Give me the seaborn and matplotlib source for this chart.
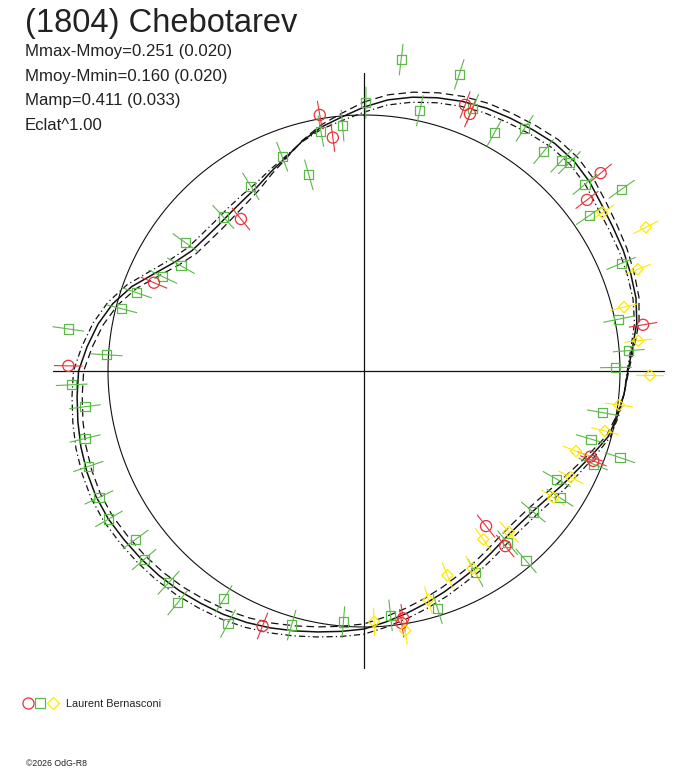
import numpy as np
import pandas as pd
import matplotlib
matplotlib.use("Agg")
import matplotlib.pyplot as plt
import seaborn as sns
from matplotlib.lines import Line2D
from matplotlib.legend_handler import HandlerTuple
from matplotlib.collections import LineCollection

# ---------------- text ----------------
title = "(1804) Chebotarev"
stats_lines = ["Mmax-Mmoy=0.251 (0.020)", "Mmoy-Mmin=0.160 (0.020)",
               "Mamp=0.411 (0.033)", "Eclat^1.00"]
observer = "Laurent Bernasconi"
credit = "\u00a92026 OdG-R8"

# ---------------- fitted light curve ----------------
# rotation angle (deg, clockwise from top) and relative flux (mean flux = 1)
fit_angle = list(range(0, 360, 5))
fit_flux = [1.031, 1.063, 1.086, 1.105, 1.121, 1.133, 1.141, 1.150, 1.160, 1.160,
            1.150, 1.133, 1.123, 1.117, 1.109, 1.100, 1.082, 1.053, 1.031, 1.020,
            1.006, 0.988, 0.951, 0.918, 0.893, 0.871, 0.857, 0.852, 0.855, 0.867,
            0.883, 0.898, 0.918, 0.939, 0.961, 0.984, 1.008, 1.021, 1.035, 1.051,
            1.068, 1.084, 1.098, 1.109, 1.121, 1.131, 1.139, 1.146, 1.154, 1.156,
            1.152, 1.145, 1.135, 1.125, 1.115, 1.086, 1.055, 1.016, 0.965, 0.902,
            0.852, 0.820, 0.809, 0.805, 0.809, 0.818, 0.832, 0.859, 0.889, 0.930,
            0.967, 0.996]
# uncertainty envelope offset (dashed = flux + band, dash-dot = flux - band)
fit_band = [0.020, 0.020, 0.020, 0.020, 0.020, 0.020, 0.020, 0.020, 0.020, 0.020,
            0.020, 0.020, 0.018, 0.016, 0.014, 0.012, 0.009, 0.006, 0.003, 0.000,
            -0.004, -0.008, -0.012, -0.015, -0.018, -0.020, -0.020, -0.020, -0.020, -0.020,
            -0.020, -0.020, -0.020, -0.020, -0.020, -0.020, -0.020, -0.020, -0.020, -0.020,
            -0.020, -0.020, -0.020, -0.020, -0.020, -0.020, -0.020, -0.020, -0.020, -0.020,
            -0.020, -0.020, -0.020, -0.020, -0.020, -0.020, -0.020, -0.020, -0.020, -0.020,
            -0.020, -0.020, -0.020, -0.020, -0.020, -0.018, -0.014, -0.009, -0.004, 0.002,
            0.008, 0.014]

# ---------------- observations ----------------
green_angle = [6.8, 17.8, 0.4, 12.1, 22.5, 28.7, 33.5, 39.3, 43.2, 44.6,
               49.8, 54.8, 55.4, 67.3, 78.5, 85.6, 89.2, 99.9, 106.7, 108.7,
               112.1, 119.3, 122.9, 129.8, 140.1, 139.5, 151.1, 162.8, 173.8, 184.7,
               195.9, 208.3, 211.6, 218.8, 222.7, 229.4, 233.6, 239.9, 244.5, 250.9,
               256.4, 262.7, 267.3, 273.6, 278.1, 284.4, 289.0, 295.1, 299.9, 305.7,
               317.6, 328.5, 339.1, 344.3, 349.8, 355.0]
green_flux = [1.225, 1.217, 1.048, 1.040, 1.109, 1.062, 1.137, 1.107, 1.127, 1.143,
              1.130, 1.232, 1.069, 1.089, 1.016, 1.037, 0.984, 0.946, 0.926, 1.056,
              0.966, 0.863, 0.912, 0.861, 0.875, 0.975, 0.900, 0.972, 0.960, 0.984,
              1.032, 1.121, 1.045, 1.162, 1.126, 1.131, 1.108, 1.152, 1.147, 1.140,
              1.121, 1.099, 1.143, 1.007, 1.167, 0.977, 0.939, 0.868, 0.825, 0.858,
              0.815, 0.846, 0.896, 0.796, 0.952, 0.962]
red_angle = [20.8, 22.4, 50.1, 52.5, 80.6, 110.7, 111.4, 141.8, 141.1, 171.0,
             171.5, 201.7, 271.0, 292.8, 321.0, 350.2, 352.4]
red_flux = [1.112, 1.086, 1.205, 1.098, 1.105, 0.946, 0.962, 0.771, 0.879, 0.978,
            0.996, 1.072, 1.155, 0.890, 0.764, 1.015, 0.920]
yellow_angle = [56.4, 63.0, 69.6, 76.2, 83.7, 90.9, 97.6, 104.0, 110.7, 117.2,
                123.8, 138.0, 144.7, 151.2, 157.8, 164.3, 177.7, 171.0]
yellow_flux = [1.118, 1.236, 1.141, 1.046, 1.078, 1.117, 1.005, 0.970, 0.885, 0.908,
               0.890, 0.846, 0.806, 0.880, 0.862, 0.929, 0.980, 1.027]
flux_err = {"green": 0.062, "red": 0.056, "yellow": 0.055}

colors = {"red": "#e8323a", "green": "#5cb848", "yellow": "#ffe800"}
markers = {"red": "o", "green": "s", "yellow": "D"}
msize = {"red": 64, "green": 44, "yellow": 33}

axis_extent_x = (-1.215, 1.172)
axis_extent_y = (-1.160, 1.164)

# ---------------- figure ----------------
sns.set_style("white")
plt.rcParams["font.family"] = ["Liberation Sans", "DejaVu Sans"]

W, H = 688, 768
fig = plt.figure(figsize=(W / 100, H / 100), dpi=100)
ax = fig.add_axes([0, 0, 1, 1])
scale = 256.0
cx, cy = 364.0, 371.0
ax.set_xlim(-cx / scale, (W - cx) / scale)
ax.set_ylim((cy - H) / scale, cy / scale)
ax.axis("off")


def to_xy(angle_deg, flux):
    a = np.deg2rad(np.asarray(angle_deg, float))
    f = np.asarray(flux, float)
    return f * np.sin(a), f * np.cos(a)


# mean-flux circle
circ_ang = np.linspace(0, 360, 721)
xc, yc = to_xy(circ_ang, np.ones_like(circ_ang))
ax.plot(xc, yc, color="#111111", lw=0.8, zorder=1)

# cross axes
ax.plot(list(axis_extent_x), [0, 0], color="#111111", lw=0.9, zorder=1)
ax.plot([0, 0], list(axis_extent_y), color="#111111", lw=0.9, zorder=1)

# fitted curve and envelopes
ang_c = fit_angle + [fit_angle[0] + 360]
flux_c = np.array(fit_flux + [fit_flux[0]])
band_c = np.array(fit_band + [fit_band[0]])
curves = [
    (flux_c, "-", 1.1),
    (flux_c + band_c, (0, (6, 3.5)), 0.9),
    (flux_c - band_c, (0, (5, 2.5, 1, 2.5)), 0.9),
]
for fl, ls, lw in curves:
    x, y = to_xy(ang_c, fl)
    df = pd.DataFrame({"x": x, "y": y})
    sns.lineplot(data=df, x="x", y="y", sort=False, estimator=None,
                 color="#111111", lw=lw, linestyle=ls, ax=ax, zorder=2)

# observations with radial error bars
groups = [("green", green_angle, green_flux),
          ("red", red_angle, red_flux),
          ("yellow", yellow_angle, yellow_flux)]
for name, angs, fl in groups:
    fl = np.asarray(fl)
    e = flux_err[name]
    x0, y0 = to_xy(angs, fl - e)
    x1, y1 = to_xy(angs, fl + e)
    segs = [[(a, b), (c, d)] for a, b, c, d in zip(x0, y0, x1, y1)]
    ax.add_collection(LineCollection(segs, colors=colors[name], linewidths=0.8, zorder=3))
    x, y = to_xy(angs, fl)
    df = pd.DataFrame({"x": x, "y": y})
    sns.scatterplot(data=df, x="x", y="y", marker=markers[name], s=msize[name],
                    facecolors="none", edgecolors=colors[name], linewidths=0.9,
                    ax=ax, zorder=4, legend=False)

ax.set_xlabel("")
ax.set_ylabel("")

# ---------------- texts ----------------
txt_col = "#222222"
fig.text(25 / W, 1 - 32.0 / H, title, fontsize=23.5, color=txt_col, va="baseline")
for i, s in enumerate(stats_lines):
    fig.text(25 / W, 1 - (56.0 + 24.6 * i) / H, s, fontsize=12.1, color=txt_col, va="baseline")

handles = (
    Line2D([], [], marker="o", ls="none", mfc="none", mec=colors["red"], ms=8, mew=0.9),
    Line2D([], [], marker="s", ls="none", mfc="none", mec=colors["green"], ms=6.6, mew=0.9),
    Line2D([], [], marker="D", ls="none", mfc="none", mec=colors["yellow"], ms=6.2, mew=0.9),
)
leg = ax.legend([handles], [observer], handler_map={tuple: HandlerTuple(ndivide=None, pad=0)},
                loc="center left", bbox_to_anchor=(22 / W, 1 - 704 / H),
                bbox_transform=fig.transFigure, frameon=False, fontsize=7.8,
                handlelength=3.4, handletextpad=0.65, borderpad=0, borderaxespad=0)
for t in leg.get_texts():
    t.set_color(txt_col)

fig.text(26 / W, 1 - 765.5 / H, credit, fontsize=6.3, color=txt_col, va="baseline")

fig.savefig("out.png", dpi=100)
